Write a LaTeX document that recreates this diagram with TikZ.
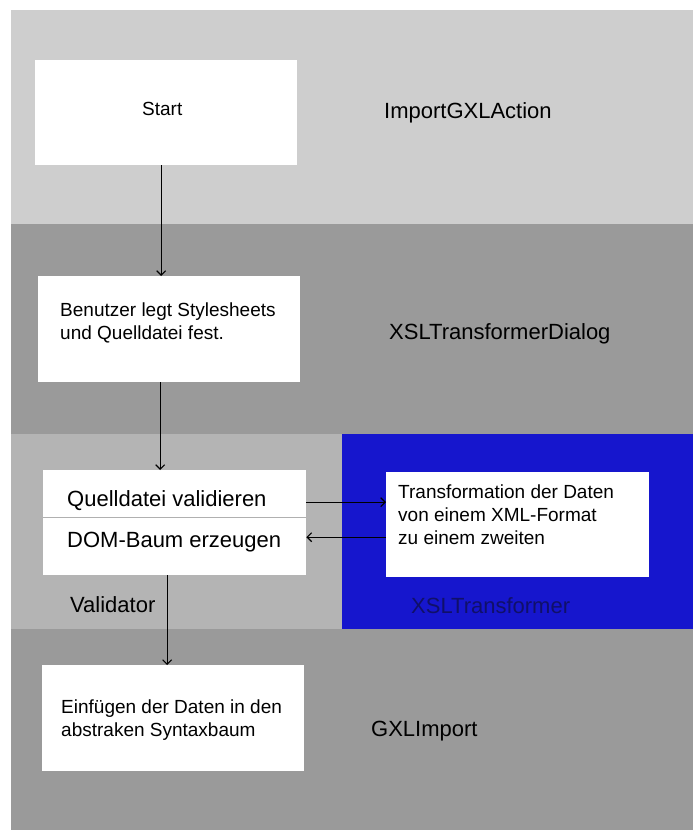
\documentclass[tikz,border=0pt]{standalone}
\usepackage{fontspec}
\setmainfont{Liberation Sans}
\usetikzlibrary{arrows.meta}
\definecolor{bandlight}{RGB}{206,206,206}
\definecolor{banddark}{RGB}{154,154,154}
\definecolor{bandmid}{RGB}{180,180,180}
\definecolor{bandblue}{RGB}{22,22,205}
\definecolor{navytext}{RGB}{16,16,105}
\definecolor{divgray}{RGB}{176,176,176}
\tikzset{
  box/.style={fill=white, draw=none, anchor=north west, inner sep=0pt},
  boxtext/.style={anchor=base west, inner sep=0pt, align=left, font=\fontsize{19}{23}\selectfont, text=black},
  lanelabel/.style={anchor=base west, inner sep=0pt, font=\fontsize{22}{26}\selectfont, text=black},
  arr/.style={draw=black, line width=1.1pt, -{Straight Barb[length=4.5pt,width=9pt,line width=1.1pt]}},
  divider/.style={draw=divgray, line width=1.2pt}
}
\begin{document}
\begin{tikzpicture}[x=1pt,y=-1pt]
\useasboundingbox (0,0) rectangle (693,830);
\fill[white] (0,0) rectangle (693,830);
% swim lanes
\fill[bandlight] (11,10) rectangle (693,224);
\fill[banddark] (11,224) rectangle (693,434);
\fill[bandmid] (11,434) rectangle (342,629);
\fill[bandblue] (342,434) rectangle (693,629);
\fill[banddark] (11,629) rectangle (693,830);
% boxes
\node[box, minimum width=262pt, minimum height=105pt] (start) at (35,60) {};
\node[box, minimum width=262pt, minimum height=106pt] (dialog) at (38,276) {};
\node[box, minimum width=263pt, minimum height=105pt] (valid) at (43,470) {};
\node[box, minimum width=263pt, minimum height=105pt] (trans) at (386,472) {};
\node[box, minimum width=262pt, minimum height=106pt] (gxl) at (42,665) {};
\draw[divider] ([yshift=5.5pt]valid.west) -- ([yshift=5.5pt]valid.east);
% texts (base anchor = baseline of the last line)
\node[boxtext] (tstart) at (142,115) {Start};
\node[boxtext] (tdialog) at (60,339) {Benutzer legt Stylesheets\\und Quelldatei fest.};
\node[boxtext, font=\fontsize{22}{26}\selectfont] (tvalid1) at (67,506) {Quelldatei validieren};
\node[boxtext, font=\fontsize{22}{26}\selectfont] (tvalid2) at (67,547) {DOM-Baum erzeugen};
\node[boxtext] (ttrans) at (398,544) {Transformation der Daten\\von einem XML-Format\\zu einem zweiten};
\node[boxtext] (tgxl) at (61,736) {Einfügen der Daten in den\\abstraken Syntaxbaum};
\node[lanelabel] (lane1) at (384,118) {ImportGXLAction};
\node[lanelabel] (lane2) at (389,339) {XSLTransformerDialog};
\node[lanelabel] (lane3) at (70,612) {Validator};
\node[lanelabel, text=navytext] (lane4) at (411,613) {XSLTransformer};
\node[lanelabel] (lane5) at (371,736) {GXLImport};
% connectors
\draw[arr] ([xshift=-5pt]start.south) -- ([xshift=-5pt]start.south |- dialog.north);
\draw[arr] ([xshift=-9pt]dialog.south) -- ([xshift=-9pt]dialog.south |- valid.north);
\draw[arr] ([yshift=20.5pt]valid.east) -- ([yshift=20.5pt]valid.east -| trans.west);
\draw[arr] ([yshift=-14.5pt]valid.east -| trans.west) -- ([yshift=-14.5pt]valid.east);
\draw[arr] ([xshift=-7.5pt]valid.south) -- ([xshift=-7.5pt]valid.south |- gxl.north);
\end{tikzpicture}
\end{document}
